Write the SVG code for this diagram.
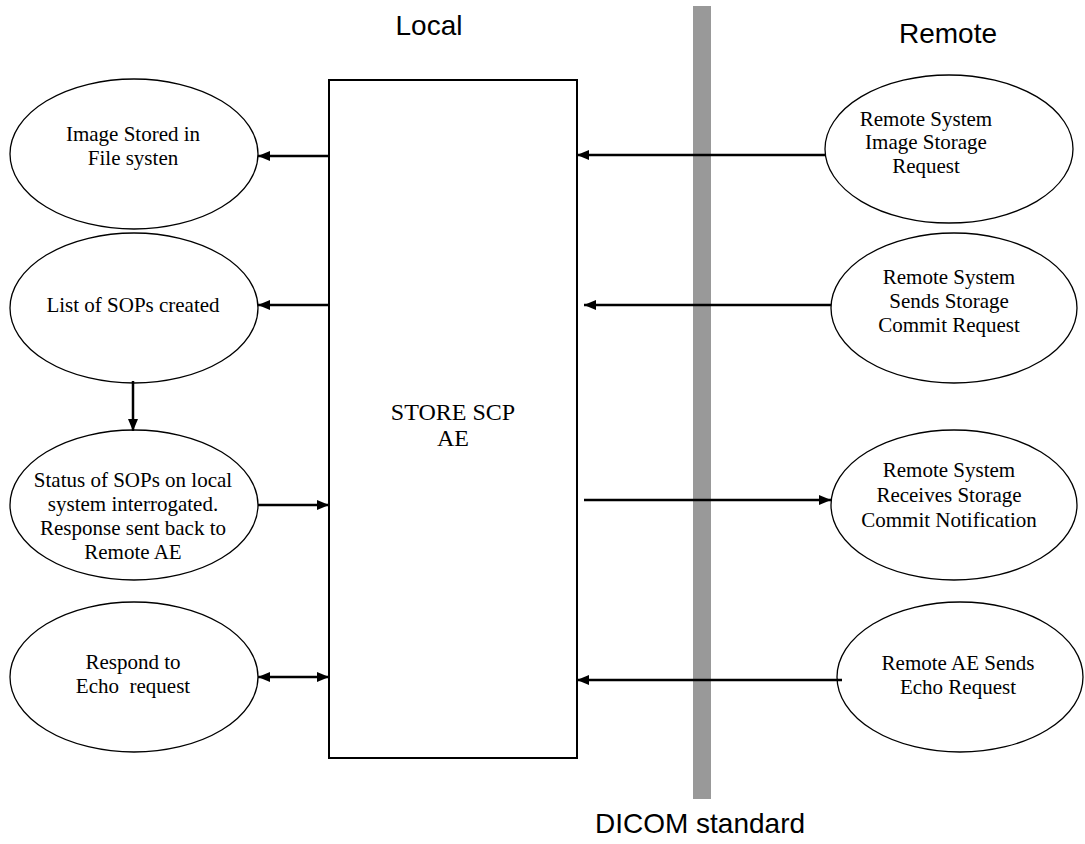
<svg xmlns="http://www.w3.org/2000/svg" width="1085" height="844" viewBox="0 0 1085 844">
  <style>
    .title { font-family: "Liberation Sans", Arial, sans-serif; font-size: 28px; fill: #000; text-anchor: middle; }
    .lbl { font-family: "Liberation Serif", "Times New Roman", serif; font-size: 21px; fill: #000; text-anchor: middle; }
    .box-lbl { font-family: "Liberation Serif", "Times New Roman", serif; font-size: 24px; fill: #000; text-anchor: middle; }
    .node { fill: #fff; stroke: #000; stroke-width: 1.3; }
    .box { fill: #fff; stroke: #000; stroke-width: 2; }
    .conn { stroke: #000; stroke-width: 2.5; fill: none; marker-end: url(#head); }
    .both { marker-start: url(#tail); }
  </style>
  <defs>
    <marker id="head" markerWidth="12" markerHeight="10" refX="12" refY="5" orient="auto" markerUnits="userSpaceOnUse">
      <path d="M0,0 L12,5 L0,10 Z" fill="#000"/>
    </marker>
    <marker id="tail" markerWidth="12" markerHeight="10" refX="0" refY="5" orient="auto" markerUnits="userSpaceOnUse">
      <path d="M12,0 L0,5 L12,10 Z" fill="#000"/>
    </marker>
  </defs>

  <rect width="1085" height="844" fill="#fff"/>

  <!-- side headings -->
  <text class="title" x="429" y="35">Local</text>
  <text class="title" x="948" y="43">Remote</text>
  <text class="title" x="700" y="833">DICOM standard</text>

  <!-- DICOM boundary -->
  <rect id="boundary" x="693" y="6" width="18" height="793" fill="#999"/>

  <!-- central application entity -->
  <g id="store-scp">
    <rect class="box" x="329" y="80" width="248" height="678"/>
    <text class="box-lbl" x="453" y="420">STORE SCP</text>
    <text class="box-lbl" x="453" y="446">AE</text>
  </g>

  <!-- local side -->
  <g id="image-stored">
    <ellipse class="node" cx="134" cy="154" rx="124" ry="75"/>
    <text class="lbl" x="133" y="141">Image Stored in</text>
    <text class="lbl" x="133" y="165">File systen</text>
  </g>
  <g id="sop-list">
    <ellipse class="node" cx="134" cy="308" rx="124" ry="75"/>
    <text class="lbl" x="133" y="312">List of SOPs created</text>
  </g>
  <g id="sop-status">
    <ellipse class="node" cx="134" cy="505" rx="124" ry="75"/>
    <text class="lbl" x="133" y="487">Status of SOPs on local</text>
    <text class="lbl" x="133" y="511">system interrogated.</text>
    <text class="lbl" x="133" y="535">Response sent back to</text>
    <text class="lbl" x="133" y="559">Remote AE</text>
  </g>
  <g id="echo-respond">
    <ellipse class="node" cx="134" cy="677" rx="124" ry="75"/>
    <text class="lbl" x="133" y="669" xml:space="preserve">Respond to</text>
    <text class="lbl" x="133" y="693" xml:space="preserve">Echo  request</text>
  </g>

  <!-- remote side -->
  <g id="remote-store">
    <ellipse class="node" cx="949" cy="149" rx="124" ry="74"/>
    <text class="lbl" x="926" y="126">Remote System</text>
    <text class="lbl" x="926" y="149">Image Storage</text>
    <text class="lbl" x="926" y="173">Request</text>
  </g>
  <g id="remote-commit">
    <ellipse class="node" cx="954" cy="308" rx="123" ry="75"/>
    <text class="lbl" x="949" y="284">Remote System</text>
    <text class="lbl" x="949" y="308">Sends Storage</text>
    <text class="lbl" x="949" y="332">Commit Request</text>
  </g>
  <g id="remote-notify">
    <ellipse class="node" cx="954" cy="505" rx="123" ry="75"/>
    <text class="lbl" x="949" y="477">Remote System</text>
    <text class="lbl" x="949" y="502">Receives Storage</text>
    <text class="lbl" x="949" y="527">Commit Notification</text>
  </g>
  <g id="remote-echo">
    <ellipse class="node" cx="960" cy="677" rx="123" ry="75"/>
    <text class="lbl" x="958" y="670">Remote AE Sends</text>
    <text class="lbl" x="958" y="694">Echo Request</text>
  </g>

  <!-- connectors -->
  <g id="connectors">
    <line class="conn" x1="329" y1="156" x2="258" y2="156"/>
    <line class="conn" x1="329" y1="305" x2="258" y2="305"/>
    <line class="conn" x1="133" y1="381" x2="133" y2="431"/>
    <line class="conn" x1="258" y1="505" x2="329" y2="505"/>
    <line class="conn both" x1="258" y1="677" x2="329" y2="677"/>
    <line class="conn" x1="825" y1="155" x2="577" y2="155"/>
    <line class="conn" x1="831" y1="305" x2="584" y2="305"/>
    <line class="conn" x1="584" y1="500" x2="831" y2="500"/>
    <line class="conn" x1="842" y1="680" x2="577" y2="680"/>
  </g>
</svg>
